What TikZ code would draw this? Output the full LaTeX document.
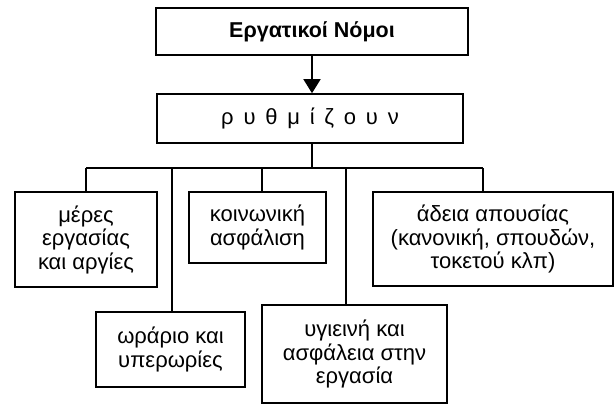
\documentclass[tikz,border=0pt]{standalone}
\usepackage{fontspec}
\setmainfont{Liberation Sans}
\usetikzlibrary{arrows.meta}
\begin{document}
\begin{tikzpicture}[x=1pt,y=-1pt,
  box/.style={draw, line width=1.6pt, rectangle, inner sep=0pt, align=center,
    font=\fontsize{22}{23.5}\selectfont},
  link/.style={line width=1.6pt}]
\useasboundingbox (0,0) rectangle (616,405);
\fill[white] (0,0) rectangle (616,405);
\node[box, minimum width=312pt, minimum height=47pt, font=\fontsize{21.5}{23.5}\selectfont\bfseries] (top) at (312,31.5) {Εργατικοί Νόμοι};
\node[box, minimum width=306pt, minimum height=49pt] (ryth) at (310,118.5) {ρ\, υ\, θ\, μ\, ί\, ζ\, ο\, υ\, ν};
\node[box, minimum width=142pt, minimum height=95pt] (meres) at (86,239.5) {μέρες\\εργασίας\\και αργίες};
\node[box, minimum width=149pt, minimum height=75pt] (wrario) at (170.5,349.5) {ωράριο και\\υπερωρίες};
\node[box, minimum width=137pt, minimum height=71pt] (koin) at (257.5,227.5) {κοινωνική\\ασφάλιση};
\node[box, minimum width=185pt, minimum height=98pt] (ygie) at (354.5,354) {υγιεινή και\\ασφάλεια στην\\εργασία};
\node[box, minimum width=240pt, minimum height=94pt] (adeia) at (493,239) {άδεια απουσίας\\(κανονική, σπουδών,\\τοκετού κλπ)};
\coordinate (hub) at (312,168);
\coordinate (jl) at (86,168);
\coordinate (jr) at (483,168);
\coordinate (j2) at (172,168);
\coordinate (j3) at (262,168);
\coordinate (j4) at (346,168);
\draw[link, -{Triangle[width=17pt,length=14pt]}] (top.south -| hub) -- (ryth.north -| hub);
\draw[link] (ryth.south -| hub) -- (hub);
\draw[link] (jl) -- (jr);
\draw[link] (jl) -- (jl |- meres.north);
\draw[link] (j2) -- (j2 |- wrario.north);
\draw[link] (j3) -- (j3 |- koin.north);
\draw[link] (j4) -- (j4 |- ygie.north);
\draw[link] (jr) -- (jr |- adeia.north);
\end{tikzpicture}
\end{document}
